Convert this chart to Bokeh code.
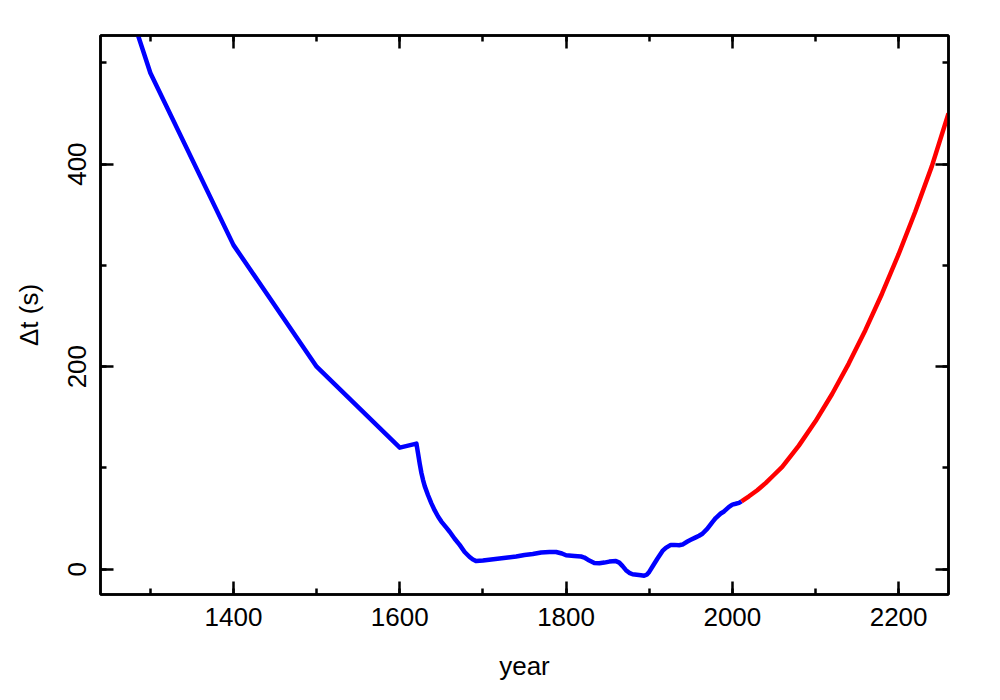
from bokeh.plotting import figure
from bokeh.models import Range1d, LinearAxis, SingleIntervalTicker
from bokeh.embed import file_html
from bokeh.resources import INLINE

hist_years = [1200, 1300, 1400, 1500, 1600, 1620, 1622, 1624, 1626, 1628, 1630,
              1634, 1638, 1642, 1646, 1650, 1656, 1660, 1666, 1672, 1678, 1684,
              1688, 1692, 1700, 1710, 1720, 1730, 1740, 1750, 1760, 1770, 1780,
              1788, 1795, 1800, 1810, 1818, 1822, 1828, 1834, 1840, 1846, 1852,
              1860, 1864, 1868, 1872, 1876, 1880, 1890, 1894, 1897, 1900, 1904,
              1910, 1916, 1920, 1926, 1930, 1936, 1940, 1946, 1950, 1956, 1960,
              1964, 1970, 1976, 1980, 1986, 1990, 1996, 2000, 2004, 2008, 2011]
hist_dt = [740, 490, 320, 200, 120, 124, 114, 104, 95, 88, 82,
           73, 65, 58, 52, 47, 41, 37, 30, 24, 17, 12,
           9.5, 8, 8.5, 9.5, 10.5, 11.5, 12.5, 14, 15, 16.5, 17,
           17, 15.5, 13.7, 13, 12.5, 11.5, 8.5, 6, 5.8, 6.5, 7.5,
           8, 6.5, 3, -1, -3.6, -5, -5.9, -6.4, -5.5, -2.7, 2.6,
           10.5, 18, 21, 24, 24, 23.7, 24.3, 27.3, 29, 31.4, 33,
           35, 40, 46.5, 50.5, 55, 57, 61.6, 63.8, 64.6, 65.5, 67]

# Extrapolated Delta T (red)
pred_years = [2011, 2020, 2030, 2040, 2050, 2060, 2080, 2100, 2120, 2140, 2160,
              2180, 2200, 2220, 2240, 2260]
pred_dt = [67, 72, 78, 85, 93, 101, 122, 146, 173, 203, 236,
           272, 311, 353, 398, 450]

FONT = "Liberation Sans"

p = figure(width=995, height=695, output_backend="svg", toolbar_location=None,
           x_range=Range1d(1240, 2260), y_range=Range1d(-25, 527),
           x_axis_type=None, y_axis_type=None,
           min_border_left=100, min_border_right=47, min_border_top=35,
           min_border_bottom=101)
p.background_fill_color = "white"
p.border_fill_color = "white"
p.xgrid.visible = False
p.ygrid.visible = False
p.outline_line_color = "black"
p.outline_line_width = 2.5


def style(ax, labels=True):
    ax.axis_line_color = "black"
    ax.axis_line_width = 2.5
    ax.major_tick_in = 13
    ax.major_tick_out = 0
    ax.minor_tick_in = 6
    ax.minor_tick_out = 0
    ax.major_tick_line_width = 2.5
    ax.minor_tick_line_width = 2.5
    ax.major_tick_line_color = "black"
    ax.minor_tick_line_color = "black"
    if labels:
        ax.major_label_text_font = FONT
        ax.major_label_text_font_size = "26px"
        ax.major_label_text_color = "black"
        ax.axis_label_text_font = FONT
        ax.axis_label_text_font_size = "26px"
        ax.axis_label_text_font_style = "normal"
        ax.axis_label_text_color = "black"
    else:
        ax.major_label_text_font_size = "0px"
        ax.major_label_text_alpha = 0


xt = SingleIntervalTicker(interval=200, num_minor_ticks=2)
yt = SingleIntervalTicker(interval=200, num_minor_ticks=2)

xb = LinearAxis(ticker=xt, axis_label="year")
style(xb)
xb.major_label_standoff = 13
xb.axis_label_standoff = 22
p.add_layout(xb, "below")

yl = LinearAxis(ticker=yt, axis_label="Δt (s)")
style(yl)
yl.major_label_orientation = "vertical"
yl.major_label_standoff = 14
yl.axis_label_standoff = 22
p.add_layout(yl, "left")

xa = LinearAxis(ticker=SingleIntervalTicker(interval=200, num_minor_ticks=2))
style(xa, labels=False)
p.add_layout(xa, "above")

yr = LinearAxis(ticker=SingleIntervalTicker(interval=200, num_minor_ticks=2))
style(yr, labels=False)
p.add_layout(yr, "right")

p.line(hist_years, hist_dt, line_color="blue", line_width=4.5, line_join="round")
p.line(pred_years, pred_dt, line_color="red", line_width=4.5, line_join="round")

open("out.html", "w").write(file_html(p, INLINE))
